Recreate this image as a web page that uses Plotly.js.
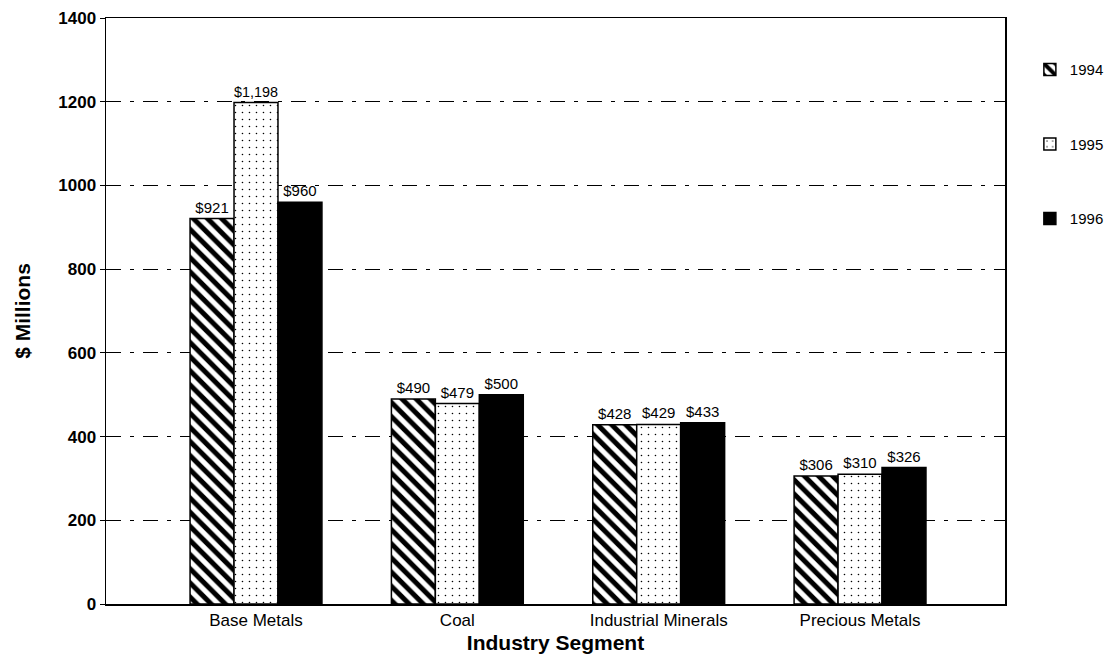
<!DOCTYPE html>
<html>
<head>
<meta charset="utf-8">
<script src="https://cdn.plot.ly/plotly-3.0.1.min.js"></script>
<style>html,body{margin:0;padding:0;background:#fff;}#chart{width:1117px;height:664px;}</style>
</head>
<body>
<div id="chart"></div>
<script>
const categories = ["Base Metals", "Coal", "Industrial Minerals", "Precious Metals"];
const years = ["1994", "1995", "1996"];
const values1994 = [921, 490, 428, 306];
const values1995 = [1198, 479, 429, 310];
const values1996 = [960, 500, 433, 326];
const yTicks = [0, 200, 400, 600, 800, 1000, 1200, 1400];

const font = "Liberation Sans, Arial, sans-serif";
const common = {
  type: "bar",
  x: categories,
  texttemplate: "$%{y:,}",
  textposition: "outside",
  textfont: {family: font, size: 15, color: "#000"},
  cliponaxis: false,
  hoverinfo: "skip"
};
const traces = [
  Object.assign({}, common, {
    name: years[0], y: values1994, legendgroup: "a",
    marker: {color: "#fff", line: {color: "#000", width: 1.5},
      pattern: {shape: "\\", fgcolor: "#000", fgopacity: 1, bgcolor: "#fff", size: 10, solidity: 0.5, fillmode: "overlay"}}
  }),
  Object.assign({}, common, {
    name: years[1], y: values1995, legendgroup: "b",
    marker: {color: "#fff", line: {color: "#000", width: 1.5},
      pattern: {shape: ".", fgcolor: "#000", fgopacity: 1, bgcolor: "#fff", size: 7, solidity: 0.04, fillmode: "overlay"}}
  }),
  Object.assign({}, common, {
    name: years[2], y: values1996, legendgroup: "c",
    marker: {color: "#000", line: {color: "#000", width: 1.5}}
  })
];

const layout = {
  width: 1117, height: 664,
  margin: {l: 106, r: 112, t: 18, b: 60, autoexpand: false},
  paper_bgcolor: "#fff", plot_bgcolor: "#fff",
  barmode: "group", bargap: 0.345, bargroupgap: 0,
  font: {family: font, color: "#000"},
  showlegend: true,
  legend: {xref: "container", x: 0.922, xanchor: "left", y: 0.94, yanchor: "top",
    font: {family: font, size: 15, color: "#000"}, tracegroupgap: 52, itemwidth: 30},
  xaxis: {
    range: [-0.745, 3.72], showline: true, linecolor: "#000", linewidth: 1.5, mirror: true,
    ticks: "", tickfont: {family: font, size: 17, color: "#000"},
    title: {text: "<b>Industry Segment</b>", font: {family: font, size: 21, color: "#000"}, standoff: 6}
  },
  yaxis: {
    range: [0, 1400], tickvals: yTicks, showline: true, linecolor: "#000", linewidth: 1.5, mirror: true,
    ticks: "outside", ticklen: 5, tickcolor: "#000",
    tickfont: {family: font, size: 17, color: "#000", weight: "bold"},
    showgrid: true, gridcolor: "#000", gridwidth: 1, griddash: "15px,9px,4px,9px",
    zeroline: false,
    title: {text: "<b>$ Millions</b>", font: {family: font, size: 21, color: "#000"}, standoff: 22}
  }
};
Plotly.newPlot("chart", traces, layout, {displayModeBar: false, staticPlot: true});
</script>
</body>
</html>
